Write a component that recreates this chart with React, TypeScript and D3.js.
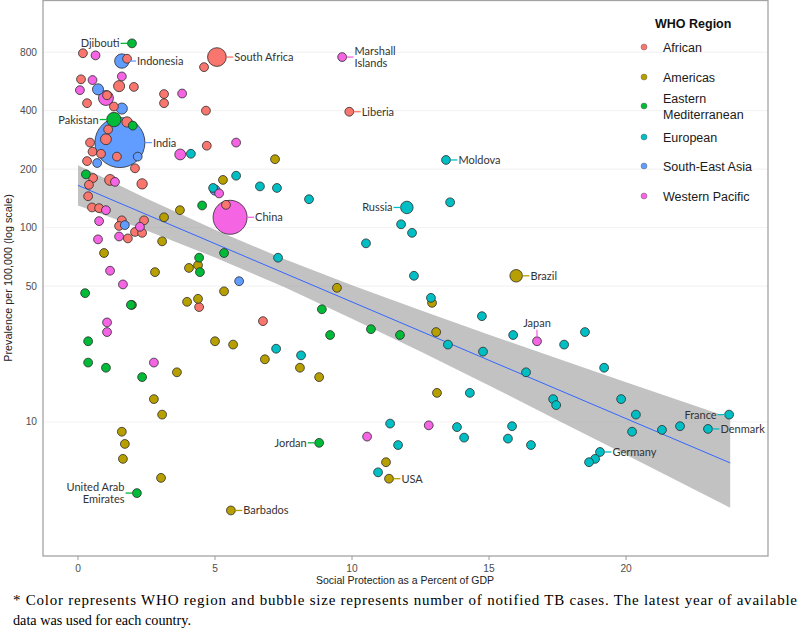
import React from "react";
import * as d3 from "d3";

// Each point: [social protection % GDP, prevalence per 100k, notified cases (thousands), label?]
type Pt = [number, number, number, string?];

const regions = ["African", "Americas", "Eastern Mediterranean", "European", "South-East Asia", "Western Pacific"];
const regionColors = ["#F8766D", "#B79F00", "#00BA38", "#00BFC4", "#619CFF", "#F564E3"];

const african: Pt[] = [
  [0.18, 790, 0.5], [1.79, 740, 0.5], [5.07, 755, 85, "South Africa"], [4.6, 670, 0.5], [0.11, 580, 0.5],
  [1.5, 535, 7], [2.04, 530, 0.5], [3.14, 487, 0.5], [3.14, 437, 0.5], [0.33, 437, 0.5], [1.06, 480, 0.5],
  [1.31, 420, 0.5], [4.67, 400, 0.5], [1.79, 350, 4], [1.1, 320, 0.5], [0.44, 274, 0.5], [1.02, 285, 6],
  [0.53, 246, 0.5], [0.84, 240, 0.5], [1.42, 232, 0.5], [0.33, 220, 0.5], [2.08, 202, 0.5], [4.7, 264, 0.5],
  [0.55, 180, 0.5], [1.17, 176, 6], [2.34, 168, 4], [0.4, 166, 0.5], [0.37, 145, 0.5], [0.51, 127, 0.5],
  [0.77, 126, 0.5], [5.4, 131, 0.5], [1.6, 109, 0.5], [1.5, 102, 0.5], [2.41, 109, 0.5], [2.08, 95, 0.5],
  [2.34, 94, 0.5], [1.82, 88, 0.5], [4.42, 39, 0.5], [6.75, 33, 0.5], [9.9, 395, 0.5, "Liberia"],
];

const americas: Pt[] = [
  [7.19, 225, 0.5], [5.29, 176, 0.5], [3.72, 123, 0.5], [3.14, 113, 0.5], [3.07, 85, 0.5], [0.95, 74, 0.5],
  [4.38, 64, 0.5], [4.05, 62, 0.5], [2.81, 59, 0.5], [5.33, 47, 0.5], [1.97, 40, 0.5], [3.98, 41.5, 0.5],
  [4.38, 43, 0.5], [5.0, 26, 0.5], [5.66, 25, 0.5], [6.82, 21, 0.5], [3.61, 18, 0.5], [2.77, 13.1, 0.5],
  [3.07, 10.9, 0.5], [1.6, 8.9, 0.5], [1.71, 7.7, 0.5], [1.64, 6.45, 0.5], [3.03, 5.15, 0.5],
  [5.58, 3.5, 0.5, "Barbados"], [9.45, 49, 0.5], [12.92, 41, 0.5], [13.07, 29, 0.5], [8.1, 19, 0.5],
  [8.8, 17, 0.5], [13.1, 14.1, 0.5], [11.24, 6.2, 0.5], [11.35, 5.1, 0.5, "USA"], [15.99, 56.5, 15, "Brazil"],
];

const easternMed: Pt[] = [
  [1.97, 888, 0.5, "Djibouti"], [1.31, 360, 30, "Pakistan"], [2.0, 335, 0.5], [0.29, 188, 0.5], [4.53, 130, 0.5],
  [5.33, 74, 0.5], [4.42, 70, 0.5], [4.45, 59, 0.5], [0.26, 46, 0.5], [1.93, 40, 0.5], [0.37, 26, 0.5],
  [0.37, 20.2, 0.5], [1.02, 19, 0.5], [2.34, 17, 0.5], [2.15, 4.3, 0.5, "United Arab Emirates"],
  [8.9, 38, 0.5], [9.2, 28, 0.5], [10.69, 30, 0.5], [11.75, 28, 0.5], [8.8, 7.8, 0.5, "Jordan"],
];

const european: Pt[] = [
  [4.12, 240, 0.5], [5.77, 185, 0.5], [4.93, 160, 0.5], [6.64, 163, 0.5], [7.26, 160, 0.5], [8.43, 140, 0.5],
  [13.43, 223, 0.5, "Moldova"], [12.0, 127, 15, "Russia"], [13.58, 135, 0.5], [11.79, 104, 0.5], [12.19, 94, 0.5],
  [10.51, 83, 0.5], [7.3, 70, 0.5], [12.26, 56.5, 0.5], [12.88, 43.5, 0.5], [14.74, 35, 0.5], [15.88, 28, 0.5],
  [7.23, 23.8, 0.5], [8.14, 22, 0.5], [13.5, 25, 0.5], [14.78, 23, 0.5], [16.35, 18, 0.5], [14.3, 14.1, 0.5],
  [11.39, 9.8, 0.5], [13.83, 9.4, 0.5], [15.84, 9.5, 0.5], [11.68, 7.6, 0.5], [14.09, 8.3, 0.5], [15.69, 8.2, 0.5],
  [16.53, 7.6, 0.5], [10.95, 5.5, 0.5], [17.74, 25, 0.5], [18.5, 29, 0.5], [19.2, 19, 0.5], [17.34, 13.1, 0.5],
  [17.45, 12.2, 0.5], [19.82, 13.1, 0.5], [20.36, 10.9, 0.5], [23.76, 10.9, 0.5, "France"], [21.97, 9.5, 0.5],
  [21.31, 9.1, 0.5], [20.22, 8.9, 0.5], [22.99, 9.2, 0.5, "Denmark"], [19.05, 7.0, 0.5, "Germany"],
  [18.87, 6.45, 0.5], [18.65, 6.2, 0.5],
];

const seAsia: Pt[] = [
  [1.6, 720, 30, "Indonesia"], [0.73, 515, 7], [1.6, 410, 7], [1.53, 274, 1300, "India"], [2.18, 232, 0.5],
  [0.7, 215, 0.5], [5.0, 156, 3], [1.71, 103, 0.5], [5.88, 53, 0.5],
];

const westernPac: Pt[] = [
  [0.64, 770, 0.5], [1.6, 600, 0.5], [0.53, 575, 0.5], [0.07, 510, 0.5], [3.8, 490, 0.5], [1.02, 465, 36],
  [5.77, 274, 0.5], [3.73, 238, 6], [1.35, 172, 0.5], [5.15, 150, 0.5], [1.02, 123, 0.5], [0.77, 108, 0.5],
  [2.26, 101, 0.5], [1.5, 90, 0.5], [0.73, 87, 0.5], [1.17, 60, 0.5], [1.64, 51, 0.5], [1.06, 32.5, 0.5],
  [1.06, 29, 0.5], [2.77, 20.2, 0.5], [5.55, 113, 500, "China"], [9.64, 755, 0.5, "Marshall Islands"],
  [16.75, 26, 0.5, "Japan"], [12.8, 9.6, 0.5], [10.55, 8.4, 0.5],
];

const regionData: Pt[][] = [african, americas, easternMed, european, seAsia, westernPac];

// Label placement: side of the point, and text lines
const labelSide: Record<string, { side: "left" | "right" | "top"; lines: string[] }> = {
  "South Africa": { side: "right", lines: ["South Africa"] },
  Liberia: { side: "right", lines: ["Liberia"] },
  Barbados: { side: "right", lines: ["Barbados"] },
  USA: { side: "right", lines: ["USA"] },
  Brazil: { side: "right", lines: ["Brazil"] },
  Djibouti: { side: "left", lines: ["Djibouti"] },
  Pakistan: { side: "left", lines: ["Pakistan"] },
  "United Arab Emirates": { side: "left", lines: ["United Arab", "Emirates"] },
  Jordan: { side: "left", lines: ["Jordan"] },
  Moldova: { side: "right", lines: ["Moldova"] },
  Russia: { side: "left", lines: ["Russia"] },
  France: { side: "left", lines: ["France"] },
  Denmark: { side: "right", lines: ["Denmark"] },
  Germany: { side: "right", lines: ["Germany"] },
  Indonesia: { side: "right", lines: ["Indonesia"] },
  India: { side: "right", lines: ["India"] },
  China: { side: "right", lines: ["China"] },
  "Marshall Islands": { side: "right", lines: ["Marshall", "Islands"] },
  Japan: { side: "top", lines: ["Japan"] },
};

// Linear fit (log scale) and its confidence band, read at sample x positions
const fitX = [0, 23.8];
const fitY = [165, 6.15];
const bandX = [0, 2.5, 5, 7.5, 10, 12.5, 15, 17.5, 20, 23.8];
const bandUpper = [209.6, 141.4, 97.5, 69.1, 50.5, 37.5, 28.1, 21.2, 16.0, 10.5];
const bandLower = [129.9, 96.5, 70.2, 49.6, 34.0, 23.0, 15.4, 10.2, 6.77, 3.61];

const xTicks = [0, 5, 10, 15, 20];
const yTicks = [10, 50, 100, 200, 400, 800];

const W = 800;
const H = 630;

export default function App() {
  const x = d3.scaleLinear().domain([-1.277, 25.18]).range([43, 768]);
  const y = d3.scaleLog().domain([2.04, 1476]).range([556, 0.5]);
  const r = d3.scaleSqrt().domain([0, 1300]).range([4, 25]);

  const pts = regionData.flatMap((arr, ri) =>
    arr.map((p) => ({ x: p[0], y: p[1], c: p[2], name: p[3], ri }))
  );
  const sorted = [...pts].sort((a, b) => b.c - a.c);

  const bandPts = bandX.map((bx, i) => ({ x: bx, lo: bandLower[i], hi: bandUpper[i] }));
  const area = d3
    .area<{ x: number; lo: number; hi: number }>()
    .x((d) => x(d.x))
    .y0((d) => y(d.lo))
    .y1((d) => y(d.hi));
  const line = d3
    .line<number>()
    .x((_, i) => x(fitX[i]))
    .y((d) => y(d));

  const sans = "'Liberation Sans', Arial, Helvetica, sans-serif";
  const labelFont = "Lato, 'Open Sans', sans-serif";
  const serif = "'Liberation Serif', 'Times New Roman', serif";

  const labels = pts.filter((p) => p.name);

  return (
    <svg width={W} height={H} style={{ position: "absolute", left: 0, top: 0, background: "#fff" }}>
      {/* grid */}
      {yTicks.map((t) => (
        <line key={"g" + t} x1={43} x2={768} y1={y(t)} y2={y(t)} stroke="#ededed" strokeWidth={0.8} />
      ))}
      {/* band + fit */}
      <path d={area(bandPts) || ""} fill="#999999" fillOpacity={0.6} />
      <path d={line(fitY) || ""} fill="none" stroke="#3366FF" strokeWidth={1} />
      {/* points */}
      {sorted.map((p, i) => (
        <circle
          key={i}
          cx={x(p.x)}
          cy={y(p.y)}
          r={r(p.c)}
          fill={regionColors[p.ri]}
          stroke="#2b2b2b"
          strokeWidth={0.8}
        />
      ))}
      {/* labels */}
      {labels.map((p, i) => {
        const cfg = labelSide[p.name as string];
        const cx = x(p.x);
        const cy = y(p.y);
        const rr = r(p.c);
        const col = regionColors[p.ri];
        const n = cfg.lines.length;
        const lh = 11.5;
        if (cfg.side === "top") {
          return (
            <g key={"l" + i}>
              <line x1={cx} x2={cx} y1={cy - rr} y2={cy - rr - 7} stroke={col} strokeWidth={1.3} />
              <text x={cx} y={cy - rr - 10} textAnchor="middle" fontFamily={labelFont} fontSize={11} fill="#333">
                {cfg.lines[0]}
              </text>
            </g>
          );
        }
        const dir = cfg.side === "right" ? 1 : -1;
        const x0 = cx + dir * rr;
        const x1 = x0 + dir * 7;
        const tx = x1 + dir * 1;
        return (
          <g key={"l" + i}>
            <line x1={x0} x2={x1} y1={cy} y2={cy} stroke={col} strokeWidth={1.3} />
            {cfg.lines.map((ln, k) => (
              <text
                key={k}
                x={tx}
                y={cy + 4 + (k - (n - 1) / 2) * lh}
                textAnchor={dir === 1 ? "start" : "end"}
                fontFamily={labelFont}
                fontSize={11}
                fill="#333"
              >
                {ln}
              </text>
            ))}
          </g>
        );
      })}
      {/* panel border */}
      <rect x={43} y={0.5} width={725} height={555.5} fill="none" stroke="#a3a3a3" strokeWidth={1.3} />
      {/* y ticks */}
      {yTicks.map((t) => (
        <text key={"yt" + t} x={37} y={y(t) + 3.5} textAnchor="end" fontFamily={sans} fontSize={10.2} fill="#4d4d4d">
          {t}
        </text>
      ))}
      {/* x ticks */}
      {xTicks.map((t) => (
        <g key={"xt" + t}>
          <line x1={x(t)} x2={x(t)} y1={556} y2={560} stroke="#9a9a9a" strokeWidth={1} />
          <text x={x(t)} y={572} textAnchor="middle" fontFamily={sans} fontSize={10.2} fill="#4d4d4d">
            {t}
          </text>
        </g>
      ))}
      <text x={405} y={584} textAnchor="middle" fontFamily={sans} fontSize={10.5} fill="#222">
        Social Protection as a Percent of GDP
      </text>
      <text
        transform={`translate(12,${278}) rotate(-90)`}
        textAnchor="middle"
        fontFamily={sans}
        fontSize={10.8}
        fill="#222"
      >
        Prevalence per 100,000 (log scale)
      </text>
      {/* legend */}
      <text x={655} y={28} fontFamily={sans} fontSize={12.5} fontWeight="bold" fill="#111">
        WHO Region
      </text>
      {regions.map((rg, i) => {
        const cyL = [47, 77, 106, 137, 166, 196][i];
        const lines = rg === "Eastern Mediterranean" ? ["Eastern", "Mediterranean"] : [rg];
        return (
          <g key={rg}>
            <circle cx={644} cy={cyL} r={3} fill={regionColors[i]} stroke="#555" strokeWidth={0.4} />
            {lines.map((ln, k) => (
              <text
                key={k}
                x={663}
                y={cyL + 4.5 + (k - (lines.length - 1) / 2) * 16}
                fontFamily={sans}
                fontSize={12.5}
                fill="#1a1a1a"
              >
                {ln}
              </text>
            ))}
          </g>
        );
      })}
      {/* footnote */}
      <text x={13} y={605} fontFamily={serif} fontSize={15} fill="#000" textLength={784} lengthAdjust="spacing">
        * Color represents WHO region and bubble size represents number of notified TB cases. The latest year of available
      </text>
      <text x={13} y={625} fontFamily={serif} fontSize={15} fill="#000" textLength={178} lengthAdjust="spacingAndGlyphs">
        data was used for each country.
      </text>
    </svg>
  );
}
